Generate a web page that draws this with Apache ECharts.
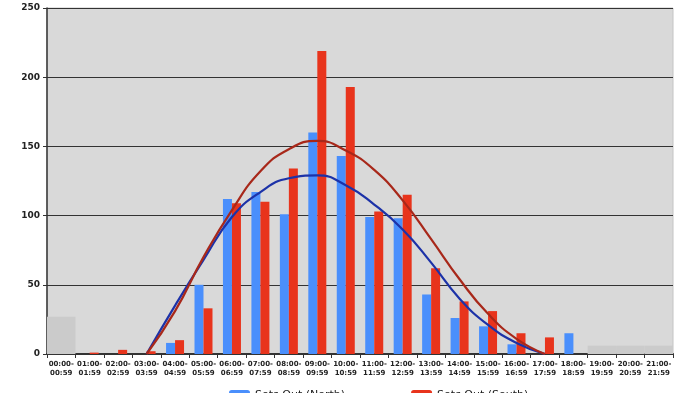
<!DOCTYPE html>
<html>
<head>
<meta charset="utf-8">
<script src="https://cdn.jsdelivr.net/npm/echarts@6/dist/echarts.min.js"></script>
<style>
html,body{margin:0;padding:0;background:#fff;}
#c{width:700px;height:393px;}
</style>
</head>
<body>
<div id="c"></div>
<script>
var categories = ['00:00-\n00:59','01:00-\n01:59','02:00-\n02:59','03:00-\n03:59','04:00-\n04:59','05:00-\n05:59','06:00-\n06:59','07:00-\n07:59','08:00-\n08:59','09:00-\n09:59','10:00-\n10:59','11:00-\n11:59','12:00-\n12:59','13:00-\n13:59','14:00-\n14:59','15:00-\n15:59','16:00-\n16:59','17:00-\n17:59','18:00-\n18:59','19:00-\n19:59','20:00-\n20:59','21:00-\n21:59'];
var northValues = [0,0,0,0,8,50,112,117,101,160,143,99,98,43,26,20,7,0,15,0,0,0];
var southValues = [0,1,3,2,10,33,109,110,134,219,193,103,115,62,38,31,15,12,0,0,0,0];
var northTrend = [null,null,null,0,35,68,99,117,127,129,122,108,90,66,40,21,8,0,null,null,null,null];
var southTrend = [null,null,null,0,31,70,104,132,148,154,147,133,111,83,54,29,11,0,null,null,null,null];
var closedValues = [27,null,null,null,null,null,null,null,null,null,null,null,null,null,null,null,null,null,null,6,6,6];
var yTicks = {min:0, max:250, interval:50};

var chart = echarts.init(document.getElementById('c'), null, {renderer:'canvas'});
var font = 'DejaVu Sans';
chart.setOption({
  animation:false,
  textStyle:{fontFamily:font},
  grid:{left:47, right:27, top:8, bottom:39, show:true, backgroundColor:'#d9d9d9', borderColor:'#c4c4c4', borderWidth:1},
  legend:{
    data:['Sets Out (North)','Sets Out (South)'],
    left:229, top:390, padding:0, itemWidth:21, itemHeight:11, itemGap:66,
    textStyle:{fontFamily:font, fontSize:11, color:'#222'}
  },
  xAxis:[{
    type:'category', data:categories,
    axisLine:{lineStyle:{color:'#333', width:2}},
    axisTick:{show:true, length:4, lineStyle:{color:'#333'}},
    axisLabel:{interval:0, fontFamily:font, fontSize:7, fontWeight:'bold', color:'#222', lineHeight:9, margin:6}
  },{
    type:'category', data:categories, show:false
  }],
  yAxis:{
    type:'value', min:yTicks.min, max:yTicks.max, interval:yTicks.interval,
    axisLine:{show:true, lineStyle:{color:'#333', width:1.5}},
    axisTick:{show:true, length:4, lineStyle:{color:'#333'}},
    axisLabel:{fontFamily:font, fontSize:9, fontWeight:'bold', color:'#222', margin:7},
    splitLine:{lineStyle:{color:'#333', width:1.2}}
  },
  series:[
    {name:'closed', type:'bar', xAxisIndex:1, data:closedValues, barWidth:'100%', itemStyle:{color:'#cbcbcb'}, z:1, silent:true},
    {name:'Sets Out (North)', type:'bar', data:northValues, barWidth:9, barGap:'0%', itemStyle:{color:'#4a8ffc'}, z:2},
    {name:'Sets Out (South)', type:'bar', data:southValues, barWidth:9, barGap:'0%', itemStyle:{color:'#e8341c'}, z:2},
    {name:'North trend', type:'line', data:northTrend, smooth:0.5, symbol:'none', lineStyle:{color:'#1c32a8', width:2.2}, z:3},
    {name:'South trend', type:'line', data:southTrend, smooth:0.5, symbol:'none', lineStyle:{color:'#a8281a', width:2.2}, z:3}
  ]
});
</script>
</body>
</html>
